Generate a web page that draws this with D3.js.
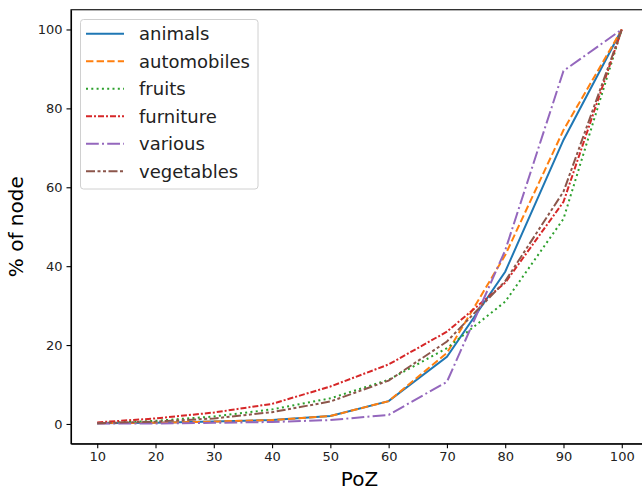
<!DOCTYPE html>
<html>
<head>
<meta charset="utf-8">
<script src="https://cdn.jsdelivr.net/npm/d3@7"></script>
<style>
  body { margin:0; background:#fff; }
  svg  { display:block; font-family:"DejaVu Sans", sans-serif; }
  .axis text { font-size:13px; fill:#222; font-family:"DejaVu Sans", sans-serif; }
  .axis path, .axis line { stroke:#000; stroke-width:1.1px; }
</style>
</head>
<body>
<div id="chart"></div>
<script>
/*  data  */
const poz = [10, 20, 30, 40, 50, 60, 70, 80, 90, 100];
const animals     = [0.2, 0.3, 0.6, 1.0, 2.0, 5.8, 17.0, 38.6, 72.0, 100];
const automobiles = [0.2, 0.3, 0.6, 1.0, 2.0, 5.8, 18.0, 42.8, 74.5, 100];
const fruits      = [0.2, 0.8, 1.9, 3.7, 6.5, 11.2, 19.2, 31.0, 52.0, 100];
const furniture   = [0.4, 1.4, 2.9, 5.1, 9.5, 15.1, 23.4, 35.8, 56.3, 100];
const various     = [0.1, 0.1, 0.3, 0.5, 1.0, 2.3, 10.7, 44.0, 89.5, 100];
const vegetables  = [0.2, 0.6, 1.4, 3.0, 5.7, 11.0, 20.9, 36.2, 58.9, 100];
const yTicks = [0, 20, 40, 60, 80, 100];

const series = [
  { name:"animals",     values:animals,     color:"#1f77b4", dash:null },
  { name:"automobiles", values:automobiles, color:"#ff7f0e", dash:"7.4,3.2" },
  { name:"fruits",      values:fruits,      color:"#2ca02c", dash:"2,3.3" },
  { name:"furniture",   values:furniture,   color:"#d62728", dash:"6,2,2,2" },
  { name:"various",     values:various,     color:"#9467bd", dash:"12.8,3.2,2,3.2" },
  { name:"vegetables",  values:vegetables,  color:"#8c564b", dash:"9,2.5,3,2.5,3,2.5" }
];

const W = 642, H = 491;
const L = 71, R = 648, T = 9.75, B = 443.7;

const svg = d3.select("#chart").append("svg").attr("width", W).attr("height", H);

const x = d3.scaleLinear().domain([5.5, 104.5]).range([L, R]);
const y = d3.scaleLinear().domain([-5, 105]).range([B, T]);

/* plot lines first, axes frame on top */
const line = d3.line().x((d, i) => x(poz[i])).y(d => y(d));
series.forEach(s => {
  svg.append("path").datum(s.values)
     .attr("d", line).attr("fill", "none")
     .attr("stroke", s.color).attr("stroke-width", 2)
     .attr("stroke-dasharray", s.dash);
});

/* axes */
svg.append("g").attr("class","axis").attr("transform",`translate(0,${B})`)
   .call(d3.axisBottom(x).tickValues(poz).tickSize(4.5).tickPadding(4).tickSizeOuter(0));
svg.append("g").attr("class","axis").attr("transform",`translate(${L},0)`)
   .call(d3.axisLeft(y).tickValues(yTicks).tickSize(4.5).tickPadding(4).tickSizeOuter(0));
/* frame */
svg.append("rect").attr("x", L).attr("y", T).attr("width", R - L).attr("height", B - T)
   .attr("fill", "none").attr("stroke", "#000").attr("stroke-width", 1.1);

/* axis titles */
svg.append("text").attr("x", (L + R) / 2).attr("y", 486)
   .attr("text-anchor","middle").attr("font-size", 20).attr("fill","#000").text("PoZ");
svg.append("text").attr("transform", `translate(23,${(T + B) / 2}) rotate(-90)`)
   .attr("text-anchor","middle").attr("font-size", 20).attr("fill","#000").text("% of node");

/* legend */
const lg = svg.append("g");
lg.append("rect").attr("x", 80.5).attr("y", 19.5).attr("width", 177.5).attr("height", 169.5)
  .attr("rx", 3).attr("fill", "#fff").attr("fill-opacity", 0.8)
  .attr("stroke", "#d0d0d0").attr("stroke-width", 1);
series.forEach((s, i) => {
  const cy = 33.7 + i * 27.5;
  lg.append("line").attr("x1", 86).attr("x2", 124).attr("y1", cy).attr("y2", cy)
    .attr("stroke", s.color).attr("stroke-width", 2).attr("stroke-dasharray", s.dash);
  lg.append("text").attr("x", 139).attr("y", cy).attr("dy", "0.35em")
    .attr("font-size", 18).attr("fill", "#222").text(s.name);
});
</script>
</body>
</html>
